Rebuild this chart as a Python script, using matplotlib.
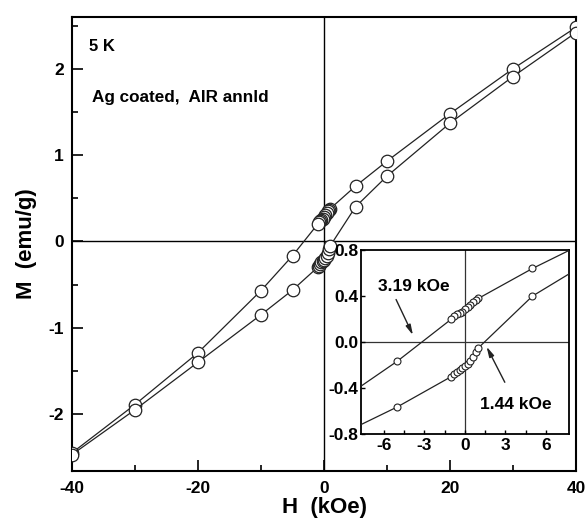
import numpy as np
import matplotlib
matplotlib.use("Agg")
import matplotlib.pyplot as plt

plt.rcParams['font.family'] = ['Liberation Sans', 'DejaVu Sans']
plt.rcParams['font.weight'] = 'bold'
plt.rcParams['axes.unicode_minus'] = False

# descending branch (field swept from +40 to -40 kOe)
h_down = [40, 30, 20, 10, 5, 1.0, 0.8, 0.6, 0.4, 0.2, 0.0, -0.2, -0.4, -0.6, -0.8, -1.0,
          -5, -10, -20, -30, -40]
m_down = [2.48, 2.00, 1.48, 0.93, 0.64, 0.38, 0.365, 0.35, 0.325, 0.305, 0.285, 0.265, 0.25,
          0.24, 0.225, 0.20, -0.166, -0.57, -1.29, -1.89, -2.45]

# ascending branch (field swept from -40 to +40 kOe)
h_up = [-40, -30, -20, -10, -5, -1.0, -0.8, -0.6, -0.4, -0.2, 0.0, 0.2, 0.4, 0.6, 0.8, 1.0,
        5, 10, 20, 30, 40]
m_up = [-2.47, -1.95, -1.40, -0.85, -0.564, -0.30, -0.28, -0.26, -0.24, -0.225, -0.21, -0.19,
        -0.165, -0.13, -0.09, -0.05, 0.40, 0.756, 1.37, 1.91, 2.42]

hc_labels = ['3.19 kOe', '1.44 kOe']

fig = plt.figure(figsize=(5.85, 5.21), dpi=100)
ax = fig.add_axes([0.1231, 0.096, 0.8615, 0.8714])

ax.axhline(0, color='black', lw=1.0, zorder=1)
ax.axvline(0, color='black', lw=1.0, zorder=1)
for h, m in [(h_down, m_down), (h_up, m_up)]:
    ax.plot(h, m, '-o', color='#222222', lw=0.9, ms=9, mfc='white', mec='#222222', mew=0.9,
            zorder=3)

ax.set_xlim(-40, 40)
ax.set_ylim(-2.66, 2.6)
ax.set_xticks([-40, -20, 0, 20, 40])
ax.set_xticks([-30, -10, 10, 30], minor=True)
ax.set_yticks([-2, -1, 0, 1, 2])
ax.set_yticks([-2.5, -1.5, -0.5, 0.5, 1.5, 2.5], minor=True)
ax.tick_params(which='both', direction='in', labelsize=12.5, width=1.2)
ax.tick_params(which='major', length=8)
ax.tick_params(which='minor', length=4)
ax.tick_params(axis='x', pad=7)
ax.tick_params(axis='y', pad=6)
for s in ax.spines.values():
    s.set_linewidth(1.5)

ax.set_xlabel('H  (kOe)', fontsize=16, fontweight='bold', labelpad=1)
ax.set_ylabel('M  (emu/g)', fontsize=16, fontweight='bold', labelpad=8)

ax.text(-37.3, 2.26, '5 K', fontsize=12, fontweight='bold', va='center')
ax.text(-36.8, 1.67, 'Ag coated,  AIR annld', fontsize=12.3, fontweight='bold', va='center')

# inset: low-field region
ins = fig.add_axes([0.617, 0.167, 0.3556, 0.353])
ins.axhline(0, color='#333333', lw=0.9, zorder=1)
ins.axvline(0, color='#333333', lw=0.9, zorder=1)
for h, m in [(h_down, m_down), (h_up, m_up)]:
    ins.plot(h, m, '-o', color='#222222', lw=0.9, ms=5, mfc='white', mec='#222222', mew=0.8,
             zorder=3)
ins.set_xlim(-7.7, 7.7)
ins.set_ylim(-0.8, 0.8)
ins.set_xticks([-6, -3, 0, 3, 6])
ins.set_xticks([-4.5, -1.5, 1.5, 4.5], minor=True)
ins.set_yticks([-0.8, -0.4, 0.0, 0.4, 0.8])
ins.set_yticklabels(['-0.8', '-0.4', '0.0', '0.4', '0.8'])
ins.tick_params(which='both', direction='in', length=3, width=1.0, labelsize=12.5)
ins.tick_params(axis='x', pad=3)
ins.tick_params(axis='y', pad=2)
for s in ins.spines.values():
    s.set_linewidth(1.3)

ins.text(-3.8, 0.48, hc_labels[0], fontsize=12.5, fontweight='bold', ha='center', va='center')
ins.annotate('', xy=(-3.85, 0.06), xytext=(-5.1, 0.37),
             arrowprops=dict(arrowstyle='-|>,head_length=0.6,head_width=0.15', color='#222222',
                             lw=1.0, mutation_scale=10, shrinkA=0, shrinkB=0))
ins.text(3.8, -0.54, hc_labels[1], fontsize=12.5, fontweight='bold', ha='center', va='center')
ins.annotate('', xy=(1.6, -0.04), xytext=(2.95, -0.35),
             arrowprops=dict(arrowstyle='-|>,head_length=0.6,head_width=0.15', color='#222222',
                             lw=1.0, mutation_scale=10, shrinkA=0, shrinkB=0))

fig.savefig('out.png', dpi=100)
